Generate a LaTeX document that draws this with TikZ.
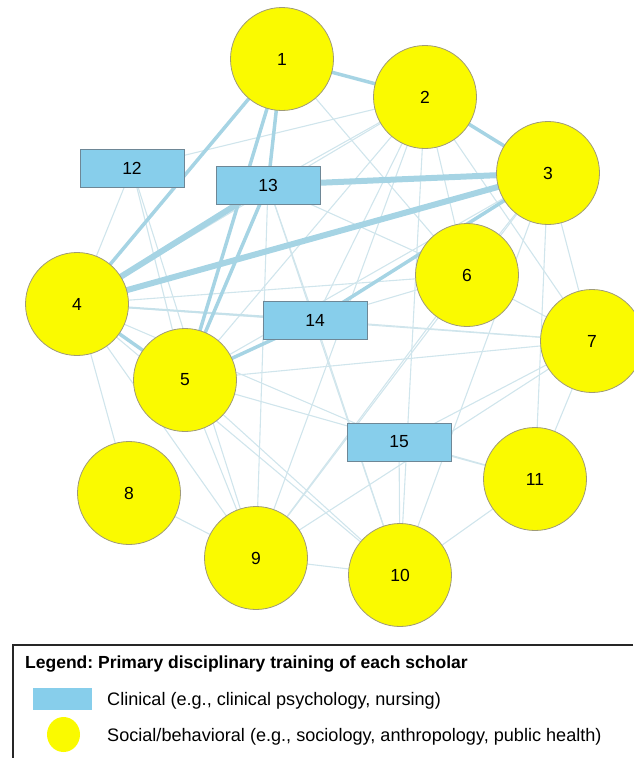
\documentclass[tikz,border=0pt]{standalone}
\usepackage{fontspec}
\setmainfont{Liberation Sans}
\usetikzlibrary{shapes.geometric}
\pgfdeclarelayer{background}
\pgfsetlayers{background,main}
\frenchspacing
\definecolor{scyellow}{RGB}{250,250,0}
\definecolor{scborder}{RGB}{160,155,120}
\definecolor{clinblue}{RGB}{135,206,235}
\definecolor{clinborder}{RGB}{110,135,150}
\definecolor{edgedark}{RGB}{166,212,228}
\definecolor{edgelight}{RGB}{208,229,236}
\tikzset{
  lbl/.style={font=\fontsize{17.5}{21}\selectfont},
  scholar/.style={circle, fill=scyellow, draw=scborder, line width=0.8pt, minimum size=103pt, inner sep=0pt, lbl},
  clinical/.style={rectangle, fill=clinblue, draw=clinborder, line width=0.8pt, minimum width=104pt, minimum height=38pt, inner sep=0pt, lbl},
  thickedge/.style={draw=edgedark, line width=6pt},
  midedge/.style={draw=edgedark, line width=3.5pt},
  softedge/.style={draw=edgelight!75!edgedark, line width=2pt},
  thinedge/.style={draw=edgelight, line width=1.1pt},
  legtext/.style={anchor=base west, inner sep=0pt, font=\fontsize{18.1}{21}\selectfont},
}
\begin{document}
\begin{tikzpicture}[x=1pt,y=-1pt]
\useasboundingbox (0,0) rectangle (633,758);
% scholars
\node[scholar] (n1) at (282,59) {1};
\node[scholar] (n2) at (425,97) {2};
\node[scholar] (n3) at (548,173) {3};
\node[scholar] (n4) at (77,304) {4};
\node[scholar] (n5) at (185,380) {5};
\node[scholar] (n6) at (467,275) {6};
\node[scholar] (n7) at (592,341) {7};
\node[scholar] (n8) at (129,493) {8};
\node[scholar] (n9) at (256,558) {9};
\node[scholar] (n10) at (400,575) {10};
\node[scholar] (n11) at (535,479) {11};
\node[clinical] (n12) at (132,168) {12};
\node[clinical] (n13) at (268,185) {13};
\node[clinical] (n14) at (315,320) {14};
\node[clinical] (n15) at (399,442) {15};
% connectors
\begin{pgfonlayer}{background}
\foreach \a/\b in {1/6,2/4,2/5,2/13,2/12,2/14,2/6,2/7,2/9,2/10,
  3/6,3/7,3/11,3/10,3/5,3/9,4/6,4/7,4/8,4/9,4/12,4/15,4/10,
  5/7,5/9,5/10,5/11,6/7,6/9,6/14,7/9,7/11,7/14,7/15,8/9,
  9/10,9/13,10/11,10/14,10/13,10/15,11/15,12/5,12/9,
  13/14,13/6}
  \draw[thinedge] (n\a.center) -- (n\b.center);
\draw[softedge] (n4.center) -- (n14.center);
\foreach \a/\b in {1/4,1/13,1/5,13/5,2/3,1/2,3/14,14/5,4/5}
  \draw[midedge] (n\a.center) -- (n\b.center);
\foreach \a/\b in {4/13,4/3,13/3}
  \draw[thickedge] (n\a.center) -- (n\b.center);
\end{pgfonlayer}
% legend
\coordinate (lgtr) at (633,645);
\coordinate (lgtl) at (13,645);
\coordinate (lgbl) at (13,758);
\draw[line width=1.2pt, black!85] (lgtr) -- (lgtl) -- (lgbl);
\node[legtext, font=\fontsize{17.5}{21}\selectfont\bfseries] (legtitle) at (25,668) {Legend: Primary disciplinary training of each scholar};
\node[rectangle, fill=clinblue, minimum width=59pt, minimum height=22pt, inner sep=0pt] (legclin) at (62.5,699) {};
\node[ellipse, fill=scyellow, minimum width=33pt, minimum height=35pt, inner sep=0pt] (legsoc) at (63.5,734.5) {};
\node[legtext] (legclintext) at (107,705.5) {Clinical (e.g., clinical psychology, nursing)};
\node[legtext] (legsoctext) at (107,741.5) {Social/behavioral (e.g., sociology, anthropology, public health)};
\end{tikzpicture}
\end{document}
